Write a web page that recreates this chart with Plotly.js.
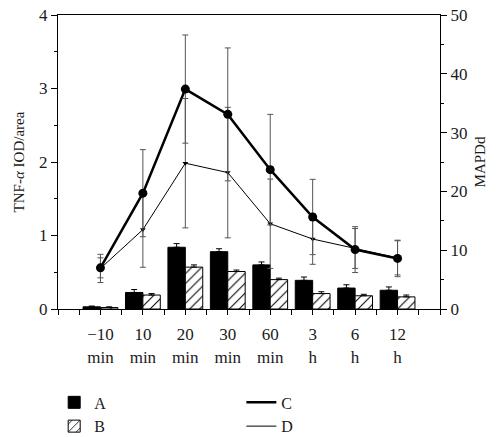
<!DOCTYPE html>
<html>
<head>
<meta charset="utf-8">
<script src="https://cdn.plot.ly/plotly-3.0.1.min.js"></script>
<style>html,body{margin:0;padding:0;background:#fff;}#chart{width:503px;height:437px;}</style>
</head>
<body>
<div id="chart"></div>
<script>
// Categories (tick labels)
const categories = ['−10<br>min', '10<br>min', '20<br>min', '30<br>min', '60<br>min', '3<br>h', '6<br>h', '12<br>h'];

// Bars (left axis, TNF-α IOD/area)
const barA = [0.03, 0.225, 0.84, 0.78, 0.60, 0.39, 0.285, 0.255];
const barAErr = [0.01, 0.04, 0.05, 0.04, 0.04, 0.045, 0.045, 0.045];
const barB = [0.02, 0.19, 0.57, 0.51, 0.40, 0.21, 0.18, 0.165];
const barBErr = [0.01, 0.02, 0.03, 0.02, 0.02, 0.025, 0.02, 0.025];

// Lines (right axis, MAPDd)
const lineC = [7.0, 19.7, 37.4, 33.1, 23.7, 15.65, 10.1, 8.6];
const lineCErr = [1.7, 7.4, 9.2, 11.3, 9.4, 6.4, 3.9, 3.1];
const lineD = [6.9, 13.5, 24.8, 23.2, 14.5, 11.9, 10.3, 8.7];
const lineDErr = [2.4, 6.4, 11.0, 11.1, 7.6, 4.3, 3.4, 2.9];

const xpos = categories.map((_, i) => i + 1);
const zeros = categories.map(() => 0);
const FONT = 'Liberation Serif, DejaVu Serif, serif';
const TXT = '#1a1a1a';
const errGrey = '#555555';

const traces = [
  {
    type: 'bar', name: 'A', x: xpos, y: barA, yaxis: 'y', legend: 'legend',
    marker: {color: '#000000', line: {color: '#000000', width: 1}},
    error_y: {type: 'data', symmetric: false, array: barAErr, arrayminus: zeros, color: '#000000', thickness: 1, width: 3}
  },
  {
    type: 'bar', name: 'B', x: xpos, y: barB, yaxis: 'y', legend: 'legend',
    marker: {color: '#ffffff', line: {color: '#000000', width: 1},
      pattern: {shape: '/', fgcolor: '#000000', bgcolor: '#ffffff', size: 7, solidity: 0.15}},
    error_y: {type: 'data', symmetric: false, array: barBErr, arrayminus: zeros, color: '#000000', thickness: 1, width: 3}
  },
  // line C: legend shows the plain line
  {
    type: 'scatter', mode: 'lines', name: 'C', x: xpos, y: lineC, yaxis: 'y2', legend: 'legend2',
    line: {color: '#000000', width: 2.5}
  },
  // line D
  {
    type: 'scatter', mode: 'lines', name: 'D', x: xpos, y: lineD, yaxis: 'y2', legend: 'legend2',
    line: {color: '#000000', width: 1}
  },
  // markers + error bars for D and C
  {
    type: 'scatter', mode: 'markers', name: 'D', x: xpos, y: lineD, yaxis: 'y2', showlegend: false,
    marker: {symbol: 'triangle-down', size: 5, color: '#000000'},
    error_y: {type: 'data', array: lineDErr, color: errGrey, thickness: 1, width: 3}
  },
  {
    type: 'scatter', mode: 'markers', name: 'C', x: xpos, y: lineC, yaxis: 'y2', showlegend: false,
    marker: {symbol: 'circle', size: 9, color: '#000000'},
    error_y: {type: 'data', array: lineCErr, color: errGrey, thickness: 1, width: 3}
  }
];

const layout = {
  width: 503, height: 437,
  paper_bgcolor: '#ffffff', plot_bgcolor: '#ffffff',
  margin: {l: 58, r: 63, t: 15, b: 128, autoexpand: false},
  font: {family: FONT, size: 17, color: TXT},
  barmode: 'group', bargap: 0.18, bargroupgap: 0,
  xaxis: {
    range: [0, 9], showgrid: false, zeroline: false,
    showline: true, linecolor: '#000000', linewidth: 1, mirror: true,
    tickmode: 'array', tickvals: xpos, ticktext: categories,
    ticks: 'outside', ticklen: 5, tickcolor: '#000000', ticklabelstandoff: 5,
    minor: {tickmode: 'linear', tick0: 0, dtick: 0.5, ticks: 'outside', ticklen: 5, tickcolor: '#000000'},
    tickfont: {family: FONT, size: 17, color: TXT}
  },
  yaxis: {
    range: [0, 4], dtick: 1, showgrid: false, zeroline: false,
    showline: true, linecolor: '#000000', linewidth: 1,
    ticks: 'outside', ticklen: 6, tickcolor: '#000000',
    minor: {dtick: 0.5, ticks: 'outside', ticklen: 3, tickcolor: '#000000'},
    tickfont: {family: FONT, size: 17, color: TXT},
    title: {text: 'TNF-<i>α</i> IOD/area', font: {family: FONT, size: 15, color: TXT}, standoff: 10}
  },
  yaxis2: {
    overlaying: 'y', side: 'right', range: [0, 50], dtick: 10,
    showgrid: false, zeroline: false,
    showline: true, linecolor: '#000000', linewidth: 1,
    ticks: 'outside', ticklen: 6, tickcolor: '#000000',
    minor: {dtick: 5, ticks: 'outside', ticklen: 3, tickcolor: '#000000'},
    tickfont: {family: FONT, size: 17, color: TXT},
    title: {text: 'MAPDd', font: {family: FONT, size: 15, color: TXT}, standoff: 8}
  },
  legend: {
    x: -0.01, xanchor: 'left', y: -0.26, yanchor: 'top',
    orientation: 'v', bgcolor: 'rgba(0,0,0,0)', borderwidth: 0,
    font: {family: FONT, size: 16, color: TXT}
  },
  legend2: {
    x: 0.48, xanchor: 'left', y: -0.26, yanchor: 'top',
    orientation: 'v', bgcolor: 'rgba(0,0,0,0)', borderwidth: 0,
    font: {family: FONT, size: 16, color: TXT}
  },
  showlegend: true
};

Plotly.newPlot('chart', traces, layout, {displayModeBar: false, staticPlot: true});
</script>
</body>
</html>
